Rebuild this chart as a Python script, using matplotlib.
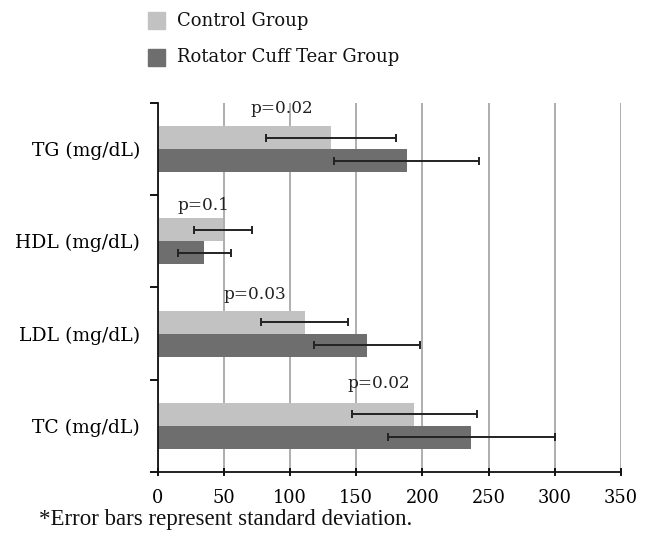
import matplotlib
matplotlib.use("Agg")
import matplotlib.pyplot as plt
import numpy as np

categories = ["TC (mg/dL)", "LDL (mg/dL)", "HDL (mg/dL)", "TG (mg/dL)"]
control_mean = [194, 111, 49, 131]
control_sd = [47, 33, 22, 49]
rct_mean = [237, 158, 35, 188]
rct_sd = [63, 40, 20, 55]
p_labels = ["p=0.02", "p=0.03", "p=0.1", "p=0.02"]
p_xpos = [167, 73, 34, 94]
p_yoff = [0.46, 0.42, 0.39, 0.44]
series_names = ["Control Group", "Rotator Cuff Tear Group"]
xticks = [0, 50, 100, 150, 200, 250, 300, 350]

light = "#c2c2c2"
dark = "#6e6e6e"
serif = ["DejaVu Serif"]

fig = plt.figure(figsize=(6.5, 5.38), dpi=100)
ax = fig.add_axes([0.243, 0.1227, 0.712, 0.6859])

y = np.arange(len(categories))
h = 0.25
ax.barh(y + h / 2, control_mean, height=h, color=light, zorder=2)
ax.barh(y - h / 2, rct_mean, height=h, color=dark, zorder=2)
ekw = dict(fmt="none", ecolor="#222222", elinewidth=1.4, capsize=3, capthick=1.4, zorder=3)
ax.errorbar(control_mean, y + h / 2, xerr=control_sd, **ekw)
ax.errorbar(rct_mean, y - h / 2, xerr=rct_sd, **ekw)

for yi, lab, xp, yo in zip(y, p_labels, p_xpos, p_yoff):
    ax.text(xp, yi + yo, lab, ha="center", va="center", fontsize=12.2,
            family=serif, color="#222222", zorder=4)

ax.set_xlim(0, 350)
ax.set_ylim(-0.5, len(categories) - 0.5)
ax.set_xticks(xticks)
ax.set_xticklabels([str(t) for t in xticks], family=serif, fontsize=12.8)
ax.xaxis.grid(True, color="#a8a8a8", linewidth=1.3, zorder=0)
ax.set_axisbelow(True)

ax.set_yticks(y)
ax.set_yticklabels(categories, family=serif, fontsize=13.5)
ax.set_yticks(np.arange(-0.5, len(categories), 1.0), minor=True)
ax.tick_params(axis="y", which="major", length=0, pad=13)
ax.tick_params(axis="y", which="minor", length=6, width=1.3, direction="out")
ax.tick_params(axis="x", length=6, width=1.3, direction="inout", pad=9)

for s in ["top", "right"]:
    ax.spines[s].set_visible(False)
for s in ["left", "bottom"]:
    ax.spines[s].set_linewidth(1.3)
    ax.spines[s].set_color("#111111")

# legend
fig.patches.append(plt.Rectangle((148 / 650, 1 - 29 / 538), 17 / 650, 17 / 538,
                                 transform=fig.transFigure, color=light))
fig.patches.append(plt.Rectangle((148 / 650, 1 - 66 / 538), 17 / 650, 17 / 538,
                                 transform=fig.transFigure, color=dark))
fig.text(177 / 650, 1 - 20.5 / 538, series_names[0], ha="left", va="center",
         fontsize=13, family=serif, color="#111111")
fig.text(177 / 650, 1 - 57.5 / 538, series_names[1], ha="left", va="center",
         fontsize=13, family=serif, color="#111111")

fig.text(412 / 650, 1 - 520 / 538, "*Error bars represent standard deviation.",
         ha="right", va="center", fontsize=16.5, family=["Liberation Serif"], color="#111111")

fig.savefig("out.png", dpi=100, facecolor="white")
